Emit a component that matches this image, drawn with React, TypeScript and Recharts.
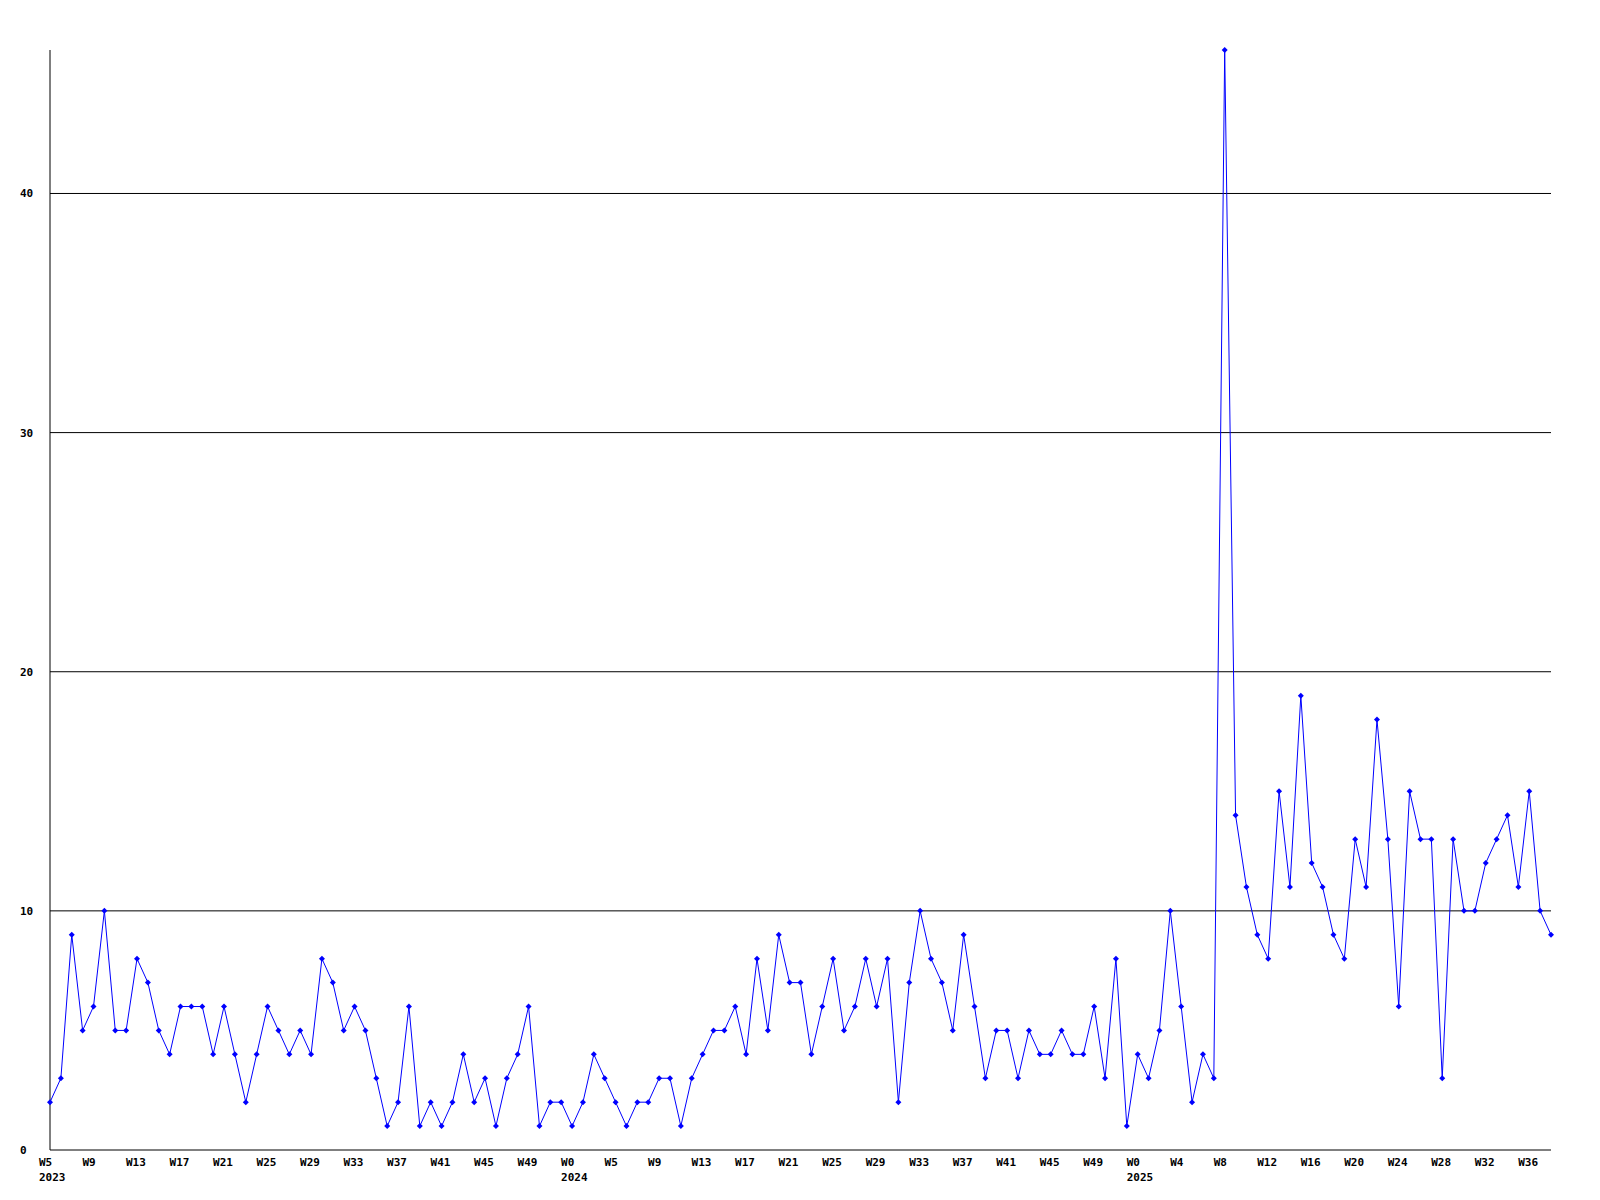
import { LineChart, Line, XAxis, YAxis, ReferenceLine } from "recharts";

// weekly counts, one per week starting at W5 2023
const weeklyCounts = [
  2, 3, 9, 5, 6, 10, 5, 5, 8, 7,
  5, 4, 6, 6, 6, 4, 6, 4, 2, 4,
  6, 5, 4, 5, 4, 8, 7, 5, 6, 5,
  3, 1, 2, 6, 1, 2, 1, 2, 4, 2,
  3, 1, 3, 4, 6, 1, 2, 2, 1, 2,
  4, 3, 2, 1, 2, 2, 3, 3, 1, 3,
  4, 5, 5, 6, 4, 8, 5, 9, 7, 7,
  4, 6, 8, 5, 6, 8, 6, 8, 2, 7,
  10, 8, 7, 5, 9, 6, 3, 5, 5, 3,
  5, 4, 4, 5, 4, 4, 6, 3, 8, 1,
  4, 3, 5, 10, 6, 2, 4, 3, 46, 14,
  11, 9, 8, 15, 11, 19, 12, 11, 9, 8,
  13, 11, 18, 13, 6, 15, 13, 13, 3, 13,
  10, 10, 12, 13, 14, 11, 15, 10, 9,
];

// labels shown every 4th week
const weekLabels = [
  "W5", "W9", "W13", "W17", "W21", "W25", "W29", "W33", "W37", "W41", "W45", "W49",
  "W0", "W5", "W9", "W13", "W17", "W21", "W25", "W29", "W33", "W37", "W41", "W45", "W49",
  "W0", "W4", "W8", "W12", "W16", "W20", "W24", "W28", "W32", "W36",
];
const yearTickIndex = [0, 12, 25];
const yearLabels = ["2023", "2024", "2025"];

const yTicks = [0, 10, 20, 30, 40];
const gridLines = [10, 20, 30, 40];

const data = weeklyCounts.map((v, i) => ({ idx: i, count: v }));
const xTicks = weekLabels.map((_, i) => i * 4);

const labelFont = {
  fontFamily: "'DejaVu Sans Mono', monospace",
  fontWeight: "bold" as const,
  fontSize: 11,
  fill: "#000",
};

function WeekTick(props: any) {
  const { x, y, payload } = props;
  const n = Math.round(payload.value / 4);
  const yi = yearTickIndex.indexOf(n);
  return (
    <g>
      <text x={x - 11} y={y + 16} textAnchor="start" {...labelFont}>
        {weekLabels[n]}
      </text>
      {yi >= 0 && (
        <text x={x - 11} y={y + 31} textAnchor="start" {...labelFont}>
          {yearLabels[yi]}
        </text>
      )}
    </g>
  );
}

function CountTick(props: any) {
  const { y, payload } = props;
  return (
    <text x={20} y={y + 4} textAnchor="start" {...labelFont}>
      {payload.value}
    </text>
  );
}

function Marker(props: any) {
  const { cx, cy, index } = props;
  if (cx == null || cy == null) return <g key={`m-${index}`} />;
  return (
    <path
      key={`m-${index}`}
      d={`M${cx},${cy - 3}L${cx + 3},${cy}L${cx},${cy + 3}L${cx - 3},${cy}Z`}
      fill="#0000ff"
    />
  );
}

export default function App() {
  return (
    <div style={{ position: "absolute", left: 0, top: 0, background: "#fff" }}>
      <LineChart
        width={1600}
        height={1200}
        data={data}
        margin={{ top: 50, right: 49, left: 0, bottom: 0 }}
      >
        <XAxis
          type="number"
          dataKey="idx"
          domain={[0, weeklyCounts.length - 1]}
          ticks={xTicks}
          interval={0}
          height={50}
          tickLine={false}
          tickSize={0}
          tickMargin={0}
          axisLine={{ stroke: "#000" }}
          tick={<WeekTick />}
        />
        <YAxis
          width={50}
          domain={[0, 46]}
          ticks={yTicks}
          interval={0}
          tickLine={false}
          tickSize={0}
          tickMargin={0}
          axisLine={{ stroke: "#000" }}
          tick={<CountTick />}
        />
        {gridLines.map((v) => (
          <ReferenceLine key={v} y={v} stroke="#000" />
        ))}
        <Line
          type="linear"
          dataKey="count"
          stroke="#0000ff"
          strokeWidth={1}
          dot={Marker}
          activeDot={false}
          isAnimationActive={false}
        />
      </LineChart>
    </div>
  );
}
